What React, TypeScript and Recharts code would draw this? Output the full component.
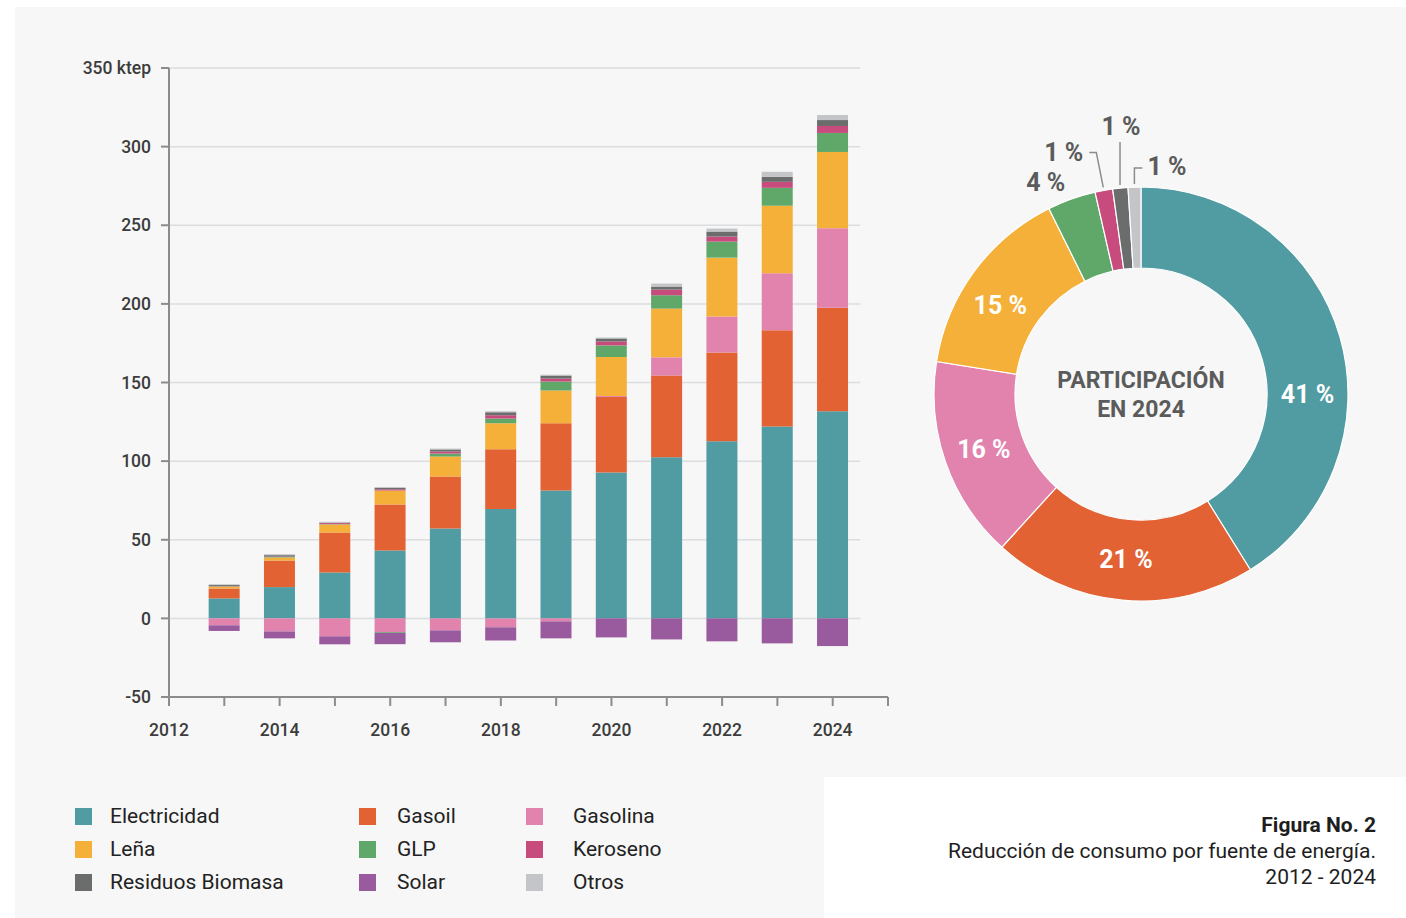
import React from 'react';
import { BarChart, Bar, XAxis, YAxis, ReferenceLine, PieChart, Pie, Cell } from 'recharts';

const years = [2013, 2014, 2015, 2016, 2017, 2018, 2019, 2020, 2021, 2022, 2023, 2024];
const electricidad = [12.7, 19.9, 29.2, 43.2, 57.2, 69.5, 81.3, 92.8, 102.5, 112.6, 122.0, 131.7];
const gasoil = [6.3, 16.9, 25.4, 29.2, 33.0, 38.1, 42.8, 48.0, 51.9, 56.4, 61.2, 65.9];
const gasolina = [-4.4, -8.3, -11.4, -8.7, -7.6, -5.7, -1.9, 0.6, 11.6, 22.9, 36.2, 50.5];
const lena = [1.2, 1.9, 5.1, 8.9, 12.7, 16.5, 20.8, 24.8, 31.0, 37.5, 43.0, 48.5];
const glp = [0.2, 0.3, 0.2, -0.5, 1.9, 3.0, 5.7, 7.4, 8.5, 10.2, 11.4, 12.1];
const keroseno = [0.2, 0.3, 0.7, 0.8, 1.3, 2.1, 1.9, 2.5, 3.6, 3.2, 3.8, 4.4];
const residuos = [0.6, 0.9, 0.3, 0.8, 1.3, 1.9, 1.9, 1.9, 1.9, 3.2, 3.2, 3.8];
const otros = [0.5, 0.6, 0.5, 0.6, 0.6, 0.6, 0.6, 0.6, 1.9, 1.9, 3.2, 3.2];
const solar = [-3.6, -4.4, -5.1, -7.2, -7.6, -8.3, -10.8, -12.1, -13.4, -14.6, -15.9, -17.6];

const seriesNames = ['Electricidad', 'Gasoil', 'Gasolina', 'Leña', 'GLP', 'Keroseno', 'Residuos Biomasa', 'Otros', 'Solar'];
const seriesValues = [electricidad, gasoil, gasolina, lena, glp, keroseno, residuos, otros, solar];
const seriesColors = ['#519ca2', '#e26234', '#e183ad', '#f5b039', '#60a869', '#c84b7e', '#6b6d6c', '#c4c5c9', '#9a5b9e'];

const legendOrder = ['Electricidad', 'Gasoil', 'Gasolina', 'Leña', 'GLP', 'Keroseno', 'Residuos Biomasa', 'Solar', 'Otros'];

const xTicks = [2012, 2013, 2014, 2015, 2016, 2017, 2018, 2019, 2020, 2021, 2022, 2023, 2024, 2025];
const yTicks = [-50, 0, 50, 100, 150, 200, 250, 300, 350];
const gridValues = [0, 50, 100, 150, 200, 250, 300, 350];

const pieNames = ['Electricidad', 'Gasoil', 'Gasolina', 'Leña', 'GLP', 'Keroseno', 'Residuos Biomasa', 'Otros'];

const data = years.map((year, i) => {
  const row: Record<string, number> = { year };
  seriesNames.forEach((n, k) => {
    row[n] = seriesValues[k][i];
  });
  return row;
});

const last = years.length - 1;
const pieData = pieNames.map((n) => ({
  name: n,
  value: seriesValues[seriesNames.indexOf(n)][last],
  color: seriesColors[seriesNames.indexOf(n)],
}));
const pieTotal = pieData.reduce((s, d) => s + d.value, 0);

const RAD = Math.PI / 180;
const AXIS = '#8c8c8c';
const TEXT = '#3c3c3c';
const LABEL_GRAY = '#5b5b5b';
const BG = '#f6f7f6';

function pt(cx: number, cy: number, angle: number, r: number) {
  return { x: cx + r * Math.cos(-angle * RAD), y: cy + r * Math.sin(-angle * RAD) };
}

const renderPieLabel = (props: any) => {
  const { cx, cy, midAngle, innerRadius, outerRadius, index, value } = props;
  const txt = `${Math.round((value / pieTotal) * 100)} %`;
  const mid = (innerRadius + outerRadius) / 2;
  if (index <= 3) {
    const a = index === 0 ? 0 : index === 3 ? midAngle + 4 : midAngle;
    const p = pt(cx, cy, a, mid);
    return (
      <text x={p.x} y={p.y} fill="#ffffff" fontSize={25} fontWeight={700} textAnchor="middle" dominantBaseline="central">
        {txt}
      </text>
    );
  }
  if (index === 4) {
    const p = pt(cx, cy, midAngle + 4.6, outerRadius + 25);
    return (
      <text x={p.x} y={p.y} fill={LABEL_GRAY} fontSize={25} fontWeight={700} textAnchor="middle" dominantBaseline="central">
        {txt}
      </text>
    );
  }
  const p0 = pt(cx, cy, midAngle, outerRadius + 3);
  if (index === 5) {
    const p1 = { x: p0.x - 7, y: p0.y - 35 };
    const p2 = { x: p1.x - 7, y: p1.y };
    return (
      <g>
        <polyline points={`${p0.x},${p0.y} ${p1.x},${p1.y} ${p2.x},${p2.y}`} fill="none" stroke={AXIS} strokeWidth={1.5} />
        <text x={p2.x - 6} y={p1.y} fill={LABEL_GRAY} fontSize={25} fontWeight={700} textAnchor="end" dominantBaseline="central">
          {txt}
        </text>
      </g>
    );
  }
  if (index === 6) {
    const p1 = { x: p0.x, y: p0.y - 43 };
    return (
      <g>
        <polyline points={`${p0.x},${p0.y} ${p1.x},${p1.y}`} fill="none" stroke={AXIS} strokeWidth={1.5} />
        <text x={p1.x + 1} y={p1.y - 16} fill={LABEL_GRAY} fontSize={25} fontWeight={700} textAnchor="middle" dominantBaseline="central">
          {txt}
        </text>
      </g>
    );
  }
  const p1 = { x: p0.x, y: p0.y - 16 };
  const p2 = { x: p1.x + 8, y: p1.y };
  return (
    <g>
      <polyline points={`${p0.x},${p0.y} ${p1.x},${p1.y} ${p2.x},${p2.y}`} fill="none" stroke={AXIS} strokeWidth={1.5} />
      <text x={p2.x + 5} y={p1.y - 2} fill={LABEL_GRAY} fontSize={25} fontWeight={700} textAnchor="start" dominantBaseline="central">
        {txt}
      </text>
    </g>
  );
};

export default function App() {
  return (
    <div
      style={{
        position: 'absolute',
        left: 0,
        top: 0,
        width: 1406,
        height: 918,
        background: '#ffffff',
        fontFamily: 'Roboto, "Noto Sans", sans-serif',
        overflow: 'hidden',
      }}
    >
      <div style={{ position: 'absolute', left: 15, top: 7, width: 1391, height: 911, background: BG }} />
      <div style={{ position: 'absolute', left: 824, top: 777, width: 582, height: 141, background: '#ffffff' }} />

      <div style={{ position: 'absolute', left: 0, top: 0 }}>
        <BarChart
          width={900}
          height={760}
          data={data}
          stackOffset="sign"
          barSize={31}
          margin={{ top: 68, right: 12, bottom: 23, left: 109 }}
        >
          {gridValues.map((v) => (
            <ReferenceLine
              key={v}
              segment={[{ x: 2012, y: v }, { x: 2024.5, y: v }]}
              stroke="#dcdde1"
              strokeWidth={1.5}
              zIndex={-50}
            />
          ))}
          <XAxis
            dataKey="year"
            type="number"
            domain={[2012, 2025]}
            ticks={xTicks}
            interval={0}
            tickFormatter={(v: number) => (v % 2 === 0 && v < 2025 ? String(v) : '')}
            axisLine={{ stroke: AXIS, strokeWidth: 2 }}
            tickLine={{ stroke: AXIS, strokeWidth: 2 }}
            tickSize={9}
            tickMargin={18}
            height={40}
            tick={{ fill: TEXT, fontSize: 17.5, fontWeight: 500 }}
          />
          <YAxis
            type="number"
            domain={[-50, 350]}
            ticks={yTicks}
            interval={0}
            width={60}
            tickFormatter={(v: number) => (v === 350 ? '350 ktep' : String(v))}
            axisLine={{ stroke: AXIS, strokeWidth: 2 }}
            tickLine={{ stroke: AXIS, strokeWidth: 2 }}
            tickSize={8}
            tickMargin={10}
            tick={{ fill: TEXT, fontSize: 17.5, fontWeight: 500 }}
          />
          {seriesNames.map((n, k) => (
            <Bar key={n} dataKey={n} stackId="a" fill={seriesColors[k]} isAnimationActive={false} />
          ))}
        </BarChart>
      </div>

      <div style={{ position: 'absolute', left: 841, top: 44 }}>
        <PieChart width={600} height={700} margin={{ top: 0, right: 0, bottom: 0, left: 0 }}>
          <Pie
            data={pieData}
            dataKey="value"
            nameKey="name"
            cx={300}
            cy={350}
            innerRadius={126}
            outerRadius={207}
            startAngle={90}
            endAngle={-270}
            stroke="#ffffff"
            strokeWidth={1.2}
            label={renderPieLabel}
            labelLine={false}
            isAnimationActive={false}
          >
            {pieData.map((d) => (
              <Cell key={d.name} fill={d.color} />
            ))}
          </Pie>
          <text x={300} y={336} textAnchor="middle" dominantBaseline="central" fill={LABEL_GRAY} fontSize={23} fontWeight={700}>
            PARTICIPACIÓN
          </text>
          <text x={300} y={365} textAnchor="middle" dominantBaseline="central" fill={LABEL_GRAY} fontSize={23} fontWeight={700}>
            EN 2024
          </text>
        </PieChart>
      </div>

      {legendOrder.map((n, i) => {
        const col = i % 3;
        const row = Math.floor(i / 3);
        const colX = [75, 359, 526][col];
        const textX = [110, 397, 573][col];
        const y = 816 + row * 33;
        const color = seriesColors[seriesNames.indexOf(n)];
        return (
          <React.Fragment key={n}>
            <div style={{ position: 'absolute', left: colX, top: y - 8.5, width: 17, height: 17, background: color }} />
            <div
              style={{
                position: 'absolute',
                left: textX,
                top: y - 13,
                height: 26,
                lineHeight: '26px',
                fontSize: 21,
                color: '#222222',
                whiteSpace: 'nowrap',
              }}
            >
              {n}
            </div>
          </React.Fragment>
        );
      })}

      <div
        style={{
          position: 'absolute',
          right: 30,
          top: 812,
          textAlign: 'right',
          fontSize: 21,
          lineHeight: '26px',
          color: '#1e1e1e',
        }}
      >
        <div style={{ fontWeight: 700 }}>Figura No. 2</div>
        <div>Reducción de consumo por fuente de energía.</div>
        <div>2012 - 2024</div>
      </div>
    </div>
  );
}
